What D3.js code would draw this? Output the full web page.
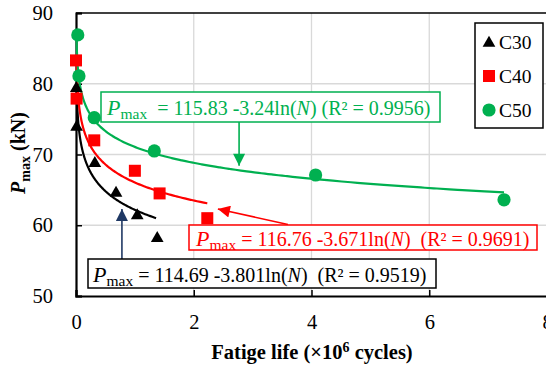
<!DOCTYPE html>
<html><head><meta charset="utf-8">
<script src="https://cdn.jsdelivr.net/npm/d3@7"></script>
<style>
html,body{margin:0;padding:0;background:#fff;}
svg{display:block;font-family:"Liberation Serif","Times New Roman",serif;}
text{white-space:pre;}
</style></head>
<body>
<svg id="chart" width="546" height="366"></svg>
<script>
// ---- data (x in 10^6 cycles, y in kN) ----
const seriesNames = ["C30", "C40", "C50"];
const seriesColors = ["#000000", "#ff0000", "#00b050"];
const c30X = [0.005, 0.01, 0.32, 0.68, 1.04, 1.38];
const c30Y = [79.5, 74.0, 68.9, 64.7, 61.5, 58.3];
const c40X = [0.0, 0.01, 0.31, 1.0, 1.42, 2.23];
const c40Y = [83.3, 77.9, 72.0, 67.7, 64.5, 61.0];
const c50X = [0.03, 0.05, 0.31, 1.33, 4.07, 7.27];
const c50Y = [86.9, 81.1, 75.2, 70.5, 67.1, 63.6];
// trendline coefficients: Pmax = a - b ln(N)
const fitA = [114.69, 116.76, 115.83];
const fitB = [3.801, 3.671, 3.24];
const fitR2 = ["0.9519", "0.9691", "0.9956"];
const fitXmin = [0.01, 0.01, 0.008];
const fitXmax = [1.36, 2.23, 7.27];
const xTicks = [0, 2, 4, 6, 8];
const yTicks = [50, 60, 70, 80, 90];

const svg = d3.select("#chart");
const x = d3.scaleLinear().domain([0, 8]).range([76, 547]);
const y = d3.scaleLinear().domain([50, 90]).range([296, 13]);

// gridlines
svg.append("g").selectAll("line").data([60, 70, 80]).join("line")
  .attr("x1", x(0)).attr("x2", x(8)).attr("y1", d => y(d)).attr("y2", d => y(d))
  .attr("stroke", "#d9d9d9").attr("stroke-width", 1.3);
svg.append("g").selectAll("line").data([2, 4, 6]).join("line")
  .attr("x1", d => x(d)).attr("x2", d => x(d)).attr("y1", y(50)).attr("y2", y(90))
  .attr("stroke", "#d9d9d9").attr("stroke-width", 1.3);

// frame
svg.append("line").attr("x1", x(0)).attr("x2", x(8)).attr("y1", y(90)).attr("y2", y(90))
  .attr("stroke", "#000").attr("stroke-width", 1.5);

// axes
const xAxis = d3.axisBottom(x).tickValues(xTicks).tickSize(-6).tickPadding(18).tickFormat(d3.format("d"));
const yAxis = d3.axisLeft(y).tickValues(yTicks).tickSize(-6).tickPadding(23).tickFormat(d3.format("d"));
const gx = svg.append("g").attr("transform", `translate(0,${y(50)})`).call(xAxis);
const gy = svg.append("g").attr("transform", `translate(${x(0)},0)`).call(yAxis);
[gx, gy].forEach(g => {
  g.select(".domain").attr("stroke", "#000").attr("stroke-width", 2.2);
  g.selectAll(".tick line").attr("stroke", "#000").attr("stroke-width", 1.5);
  g.selectAll(".tick text").attr("font-family", "Liberation Serif").attr("font-size", 20.5).attr("fill", "#000");
});
gx.selectAll(".tick text").attr("dy", "0.71em");

// axis titles
svg.append("text").attr("x", 312).attr("y", 359).attr("text-anchor", "middle")
  .attr("font-size", 20.5).attr("font-weight", "bold")
  .call(t => {
    t.append("tspan").text("Fatige life (×10");
    t.append("tspan").attr("font-size", 14).attr("dy", -7).text("6");
    t.append("tspan").attr("dy", 7).text(" cycles)");
  });
svg.append("text").attr("transform", "translate(25,153) rotate(-90)").attr("text-anchor", "middle")
  .attr("font-size", 20).attr("font-weight", "bold")
  .call(t => {
    t.append("tspan").attr("font-style", "italic").text("P");
    t.append("tspan").attr("font-size", 14).attr("dy", 5).text("max");
    t.append("tspan").attr("dy", -5).text(" (kN)");
  });

// trendlines
const line = d3.line().x(d => x(d[0])).y(d => y(d[1])).curve(d3.curveMonotoneX);
seriesNames.forEach((s, i) => {
  const pts = [];
  const n = 200;
  const l0 = Math.log(fitXmin[i]), l1 = Math.log(fitXmax[i]);
  for (let k = 0; k <= n; k++) {
    const xv = Math.exp(l0 + (l1 - l0) * k / n);
    pts.push([xv, fitA[i] - fitB[i] * Math.log(xv * 1e6)]);
  }
  svg.append("path").datum(pts.filter(p => p[1] <= 90)).attr("d", line)
    .attr("fill", "none").attr("stroke", seriesColors[i]).attr("stroke-width", 2.2);
});

// markers
const tri = d3.symbol().type(d3.symbolTriangle).size(70);
const drawMarker = (g, type, cx, cy, color) => {
  if (type === 0) g.append("path").attr("d", tri()).attr("transform", `translate(${cx},${cy + 1})`).attr("fill", color);
  else if (type === 1) g.append("rect").attr("x", cx - 6).attr("y", cy - 6).attr("width", 12).attr("height", 12).attr("fill", color);
  else g.append("circle").attr("cx", cx).attr("cy", cy).attr("r", 6.6).attr("fill", color);
};
const allX = [c30X, c40X, c50X], allY = [c30Y, c40Y, c50Y];
const mg = svg.append("g");
[2, 1, 0].forEach(i => {
  allX[i].forEach((xv, j) => drawMarker(mg, i, x(xv), y(allY[i][j]), seriesColors[i]));
});

// arrows
const defs = svg.append("defs");
const arrowColors = ["#1f3864", "#ff0000", "#00b050"];
arrowColors.forEach((c, i) => {
  defs.append("marker").attr("id", "ah" + i).attr("viewBox", "0 0 10 10").attr("refX", 10).attr("refY", 5)
    .attr("markerWidth", 14).attr("markerHeight", 12).attr("markerUnits", "userSpaceOnUse").attr("orient", "auto")
    .append("path").attr("d", "M0,0 L10,5 L0,10 Z").attr("fill", c);
});
// arrow endpoints in data coordinates
const arrowFrom = [[0.78, 55.2], [3.6, 60.1], [2.77, 74.6]];
const arrowTo = [[0.78, 62.3], [2.41, 62.3], [2.77, 68.4]];
arrowTo.forEach((p, i) => {
  svg.append("line")
    .attr("x1", x(arrowFrom[i][0])).attr("y1", y(arrowFrom[i][1]))
    .attr("x2", x(p[0])).attr("y2", y(p[1]))
    .attr("stroke", arrowColors[i]).attr("stroke-width", 1.6)
    .attr("marker-end", `url(#ah${i})`);
});

// equation boxes
const boxes = [
  {x0: 88, y0: 259, x1: 436, y1: 288, tx: 93, ty: 282, gap: "  "},
  {x0: 189, y0: 225, x1: 537, y1: 250, tx: 196, ty: 246, gap: "  "},
  {x0: 101, y0: 92, x1: 440, y1: 122, tx: 107, ty: 115, gap: " "}
];
boxes.forEach((b, i) => {
  svg.append("rect").attr("x", b.x0).attr("y", b.y0).attr("width", b.x1 - b.x0).attr("height", b.y1 - b.y0)
    .attr("fill", "#fff").attr("stroke", seriesColors[i]).attr("stroke-width", 1.5);
  svg.append("text").attr("x", b.tx).attr("y", b.ty).attr("font-size", 20).attr("fill", seriesColors[i])
    .call(t => {
      t.append("tspan").attr("font-style", "italic").attr("font-size", 22).text("P");
      t.append("tspan").attr("font-size", 15.5).attr("dy", 4).text("max");
      t.append("tspan").attr("dy", -4).text((i === 2 ? "  = " : " = ") + fitA[i].toFixed(2) + " -" + fitB[i] + "ln(");
      t.append("tspan").attr("font-style", "italic").text("N");
      t.append("tspan").text(")" + b.gap + "(R² = " + fitR2[i] + ")");
    });
});

// legend
const lg = svg.append("g");
lg.append("rect").attr("x", 475).attr("y", 23).attr("width", 68).attr("height", 105)
  .attr("fill", "#fff").attr("stroke", "#000").attr("stroke-width", 1.5);
seriesNames.forEach((s, i) => {
  const cy = 42 + i * 34;
  drawMarker(lg, i, 489, cy, seriesColors[i]);
  lg.append("text").attr("x", 499).attr("y", cy + 7).attr("font-size", 19.5).attr("fill", "#000").text(s);
});
</script>
</body></html>
